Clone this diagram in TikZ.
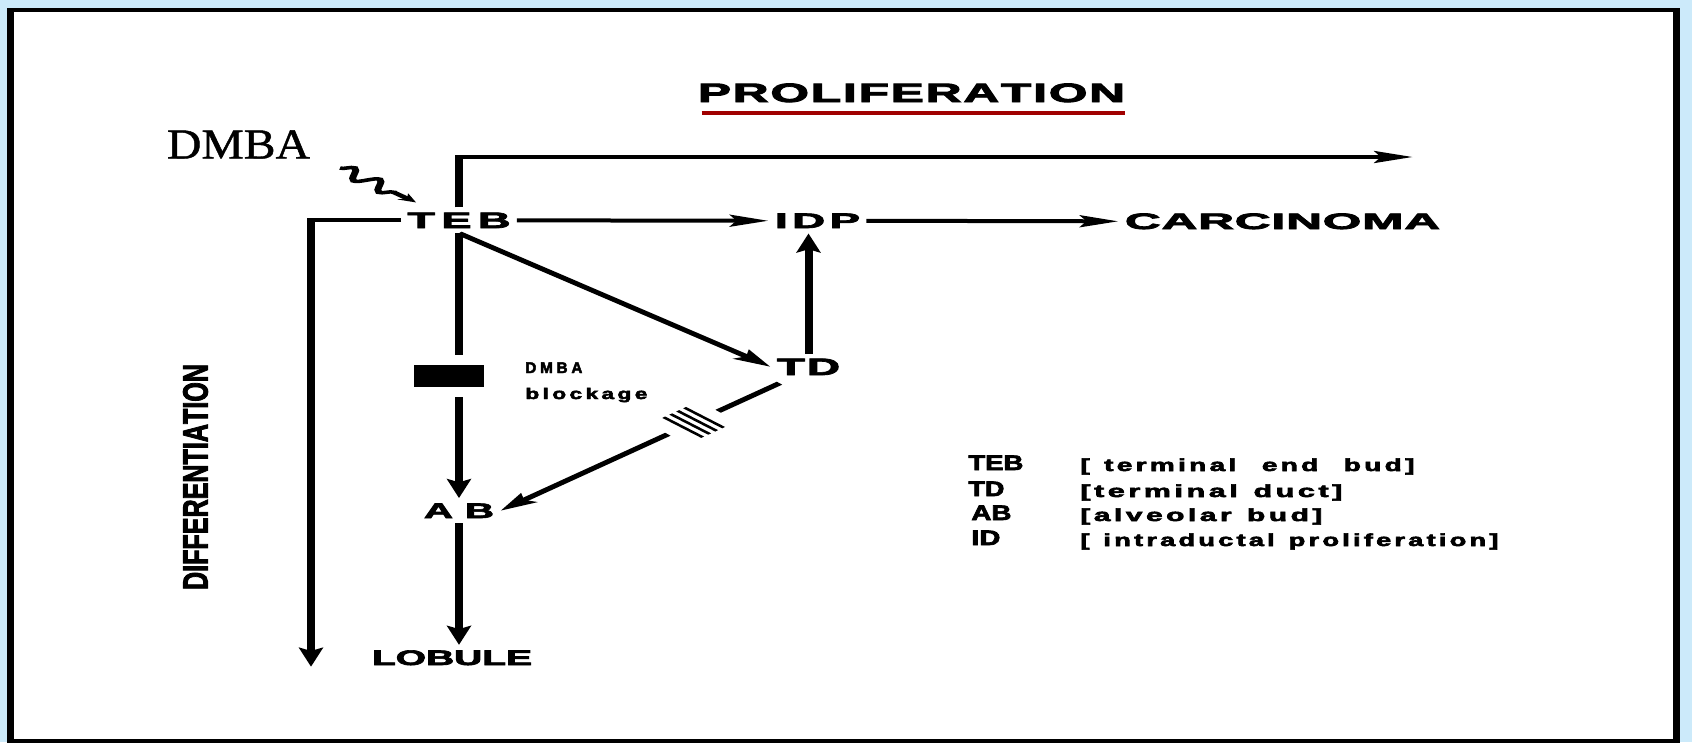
\documentclass[tikz,border=0pt]{standalone}
\usepackage{fontspec}
\usepackage{graphicx}
\usetikzlibrary{arrows.meta,calc,decorations.pathmorphing}
\newfontfamily\labfont{Liberation Sans}[BoldFeatures={FakeBold=3}]
\newfontfamily\serfont{Liberation Serif}[FakeBold=1]
\definecolor{bgblue}{RGB}{204,234,250}
\definecolor{ulred}{RGB}{160,0,0}
\makeatletter
\newcommand\spreadtxt[2]{{\def\sp@sep{}\@tfor\sp@c:=#2\do{\sp@sep\sp@c\def\sp@sep{\kern#1}}}}
\makeatother
\newcommand\lbltxt[4]{\resizebox{#1}{\height}{\fontsize{#2}{#2}\selectfont\labfont\bfseries\spreadtxt{#3}{#4}}}
\begin{document}
\begin{tikzpicture}[
  lab/.style={inner xsep=3pt, inner ysep=5pt, anchor=base},
  txt/.style={inner sep=0pt, anchor=base west},
  conn/.style={line width=4pt},
  arr/.style={conn, -{Stealth[length=19pt,width=11.5pt,inset=3pt]}},
  hatch/.style={line width=2pt},
]
\useasboundingbox (0pt,0pt) rectangle (1692pt,-742pt);
\fill[bgblue] (0pt,0pt) rectangle (1692pt,-742pt);
\begin{scope}[transform canvas={xscale=2}, x=0.5pt, y=-1pt]
 \filldraw[fill=white, draw=black, line width=3.5pt] (10.5,10) rectangle (1676,741);

 % titles
 \node[inner sep=0pt, anchor=base] (PROL) at (911.5,102) {\lbltxt{213.5pt}{26.5pt}{0.04em}{PROLIFERATION}};
 \draw[ulred, line width=4pt] ($(PROL.base west)+(4,11)$) -- ($(PROL.base east)+(0,11)$);
 \node[inner sep=0pt, anchor=base] (DMBA) at (238.5,158.5) {\resizebox{71.5pt}{\height}{\fontsize{42.7pt}{42.7pt}\selectfont\serfont DMBA}};
 \node[inner sep=0pt, rotate=90] (DIFF) at (195.5,477) {\lbltxt{226pt}{17.5pt}{0em}{DIFFERENTIATION}};

 % main nodes
 \node[lab] (TEB) at (459,228) {\lbltxt{51.5pt}{22.3pt}{0.15em}{TEB}};
 \node[lab] (IDP) at (817.5,228) {\lbltxt{42.5pt}{21pt}{0.1em}{IDP}};
 \node[lab] (CARC) at (1282.5,229) {\lbltxt{157.5pt}{22.3pt}{0.02em}{CARCINOMA}};
 \node[lab] (TD) at (808.5,375) {\lbltxt{31.5pt}{23.7pt}{0.05em}{TD}};
 \node[lab] (AB) at (459,518) {\lbltxt{35pt}{21pt}{0.3em}{AB}};
 \node[lab] (LOB) at (452,665) {\lbltxt{80pt}{21pt}{0em}{LOBULE}};

 % blockage
 \node[fill=black, inner sep=0pt, minimum width=35pt, minimum height=22pt] (BLK) at (449,376) {};
 \node[txt] (BLKa) at (525,373) {\lbltxt{28.5pt}{15.4pt}{0.25em}{DMBA}};
 \node[txt] (BLKb) at (525,399) {\lbltxt{61pt}{15.4pt}{0.15em}{blockage}};

 % legend
 \node[txt] (LTEB) at (968,470) {\lbltxt{27.5pt}{21pt}{0em}{TEB}};
 \node[txt] (LTD) at (968,496) {\lbltxt{18pt}{21pt}{0em}{TD}};
 \node[txt] (LAB) at (971,520) {\lbltxt{20pt}{21pt}{0em}{AB}};
 \node[txt] (LID) at (971,545) {\lbltxt{14.5pt}{21pt}{0em}{ID}};
 \node[txt] (DTEB) at (1080,471) {\lbltxt{167pt}{17.3pt}{0.12em}{[\ terminal\ \ end\ \ bud]}};
 \node[txt] (DTD) at (1080,497) {\lbltxt{131pt}{17.3pt}{0.12em}{[terminal\ duct]}};
 \node[txt] (DAB) at (1080,521) {\lbltxt{121pt}{17.3pt}{0.12em}{[alveolar\ bud]}};
 \node[txt] (DID) at (1080,546) {\lbltxt{209pt}{17.3pt}{0.12em}{[\ intraductal\ proliferation]}};

 % connectors
 \coordinate (propend) at (1413,157);
 \draw[arr] (TEB.north) |- (propend);
 \coordinate (diffend) at (311,667);
 \draw[arr] (TEB.west) -| (diffend);
 \draw[arr] (TEB.east) -- (IDP.west);
 \draw[arr] (IDP.east) -- (CARC.west);
 \draw[arr] (TEB.south) -- (TD.west);
 \draw[arr] (TD.north) -- (TD.north |- IDP.south);
 \draw[conn, shorten >=10pt] (TEB.south) -- (TEB.south |- BLK.north);
 \draw[arr, shorten <=10pt] (TEB.south |- BLK.south) -- (TEB.south |- AB.north);
 \draw[arr] (AB.south) -- (AB.south |- LOB.north);

 \coordinate (tdA) at ($(TD.south)+(-29,3)$);
 \draw[conn] (tdA) -- ($(tdA)!0.22!(AB.east)$);
 \draw[arr] ($(tdA)!0.40!(AB.east)$) -- (AB.east);
 \foreach \f in {0.27,0.295,0.32,0.345}
   \draw[hatch] ($(tdA)!\f!(AB.east)$) ++(-19.5,-10) -- ++(39,20);

 \coordinate (wv) at (340,168);
 \draw[line width=3.5pt, decorate, decoration={snake, amplitude=5pt, segment length=17pt, post length=8pt}, -{Stealth[length=9pt,width=8pt]}] (wv) -- ($(TEB.north west)+(15,-5)$);
\end{scope}
\end{tikzpicture}
\end{document}
